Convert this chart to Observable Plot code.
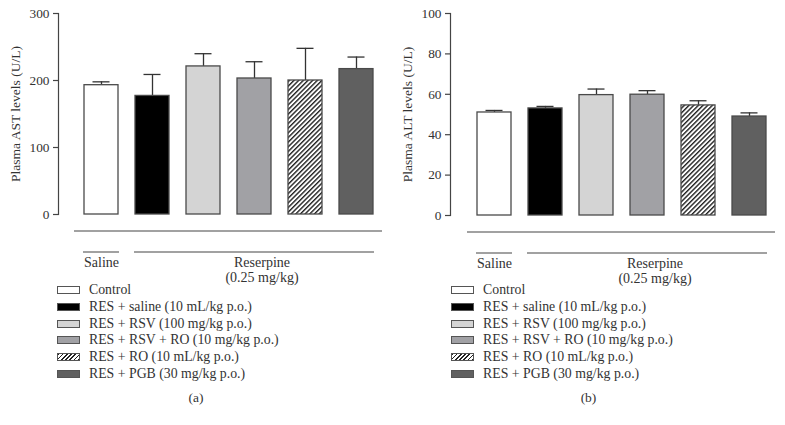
<!DOCTYPE html>
<html><head><meta charset="utf-8">
<script src="https://cdn.jsdelivr.net/npm/d3@7"></script>
<script src="https://cdn.jsdelivr.net/npm/@observablehq/plot@0.6"></script>
<style>
body{margin:0;background:#fff;font-family:"Liberation Serif",serif;color:#333;}
#wrap{display:flex;width:785px;}
.panel{position:relative;}
.panel svg{display:block;}
.row{height:16.7px;display:flex;align-items:center;font-size:13.8px;white-space:nowrap;}
.sw{box-sizing:border-box;width:23px;height:8px;border:1px solid #555;flex:none;}
.cap{text-align:center;font-size:13.5px;margin-top:8px;}
</style>
</head><body>
<div id="wrap"></div>
<script>
const groups = ["Control","RES + saline (10 mL/kg p.o.)","RES + RSV (100 mg/kg p.o.)","RES + RSV + RO (10 mg/kg p.o.)","RES + RO (10 mL/kg p.o.)","RES + PGB (30 mg/kg p.o.)"];
const astMean = [193, 177, 221, 203, 200, 217];
const astErr  = [5, 32, 19, 25, 48, 18];
const altMean = [51, 53, 59.6, 59.8, 54.5, 49];
const altErr  = [1, 1, 3, 2, 2.3, 1.8];
const astTicks = [0, 100, 200, 300];
const altTicks = [0, 20, 40, 60, 80, 100];
const fillColors = ["#ffffff", "#000000", "#d4d4d4", "#a1a1a5", "hatch", "#606060"];
const spanGroup = ["Saline", "Reserpine"];
const spanDose = ["", "(0.25 mg/kg)"];
const spanFrom = [groups[0], groups[1]];
const spanTo = [groups[0], groups[5]];
const spanMid = [groups[0], groups[3]];
const spanShift = [0, 7.5];

function makePanel({id, means, errs, ticks, yMax, label, width, x0, x1, bottom, caption, swLeft, textGap}) {
  const rows = groups.map((g, i) => ({g, m: means[i], e: errs[i]}));
  const spans = spanGroup.map((s, i) => ({group: s, dose: spanDose[i], from: spanFrom[i], to: spanTo[i], mid: spanMid[i], shift: spanShift[i]}));
  const fills = fillColors.map(c => c === "hatch" ? `url(#hatch-${id})` : c);
  const H = 282;
  const svg = Plot.plot({
    width, height: H, marginTop: 13, marginBottom: H - bottom, marginLeft: 58, marginRight: 0,
    style: {fontFamily: "Liberation Serif, serif", fontSize: "13px", color: "#333", background: "transparent", overflow: "visible"},
    x: {domain: groups, range: [x0, x1], padding: 0.337, axis: null},
    y: {domain: [0, yMax], axis: null},
    color: {domain: groups, range: fills},
    marks: [
      Plot.frame({anchor: "left", stroke: "#444", strokeWidth: 1.2}),
      Plot.axisY({ticks, tickSize: 5, tickPadding: 4, label: null, stroke: "#444", strokeWidth: 1.2, fontSize: 13.3}),
      Plot.text([label], {frameAnchor: "left", rotate: -90, dx: -43, text: d => d, fontSize: 13.5, textAnchor: "middle", lineAnchor: "middle"}),
      Plot.ruleX(rows, {x: "g", y1: "m", y2: d => d.m + d.e, stroke: "#333", strokeWidth: 1.3}),
      Plot.tickY(rows, {x: "g", y: d => d.m + d.e, inset: 8.5, stroke: "#333", strokeWidth: 1.3}),
      Plot.barY(rows, {x: "g", y: "m", fill: "g", stroke: "#4a4a4a", strokeWidth: 1.3}),
      Plot.ruleY([0], {x1: () => groups[0], x2: () => groups[groups.length - 1], y: d => d, dy: 16.5, insetLeft: -10, insetRight: -9, stroke: "#444", strokeWidth: 1.2}),
      Plot.ruleY(spans, {x1: "from", x2: "to", y: () => 0, dy: 37.5, insetLeft: -1, insetRight: -1, stroke: "#444", strokeWidth: 1.2}),
      Plot.text(spans.filter(d => d.shift === 0), {x: "mid", frameAnchor: "bottom", dy: 47.7, text: "group", lineAnchor: "middle", fontSize: 14}),
      Plot.text(spans.filter(d => d.shift !== 0), {x: "mid", frameAnchor: "bottom", dy: 47.7, dx: 7.5, text: "group", lineAnchor: "middle", fontSize: 14}),
      Plot.text(spans.filter(d => d.shift !== 0), {x: "mid", frameAnchor: "bottom", dy: 62.7, dx: 7.5, text: "dose", lineAnchor: "middle", fontSize: 14})
    ]
  });
  const ns = "http://www.w3.org/2000/svg";
  const defs = document.createElementNS(ns, "defs");
  const pat = document.createElementNS(ns, "pattern");
  pat.setAttribute("id", `hatch-${id}`);
  pat.setAttribute("patternUnits", "userSpaceOnUse");
  pat.setAttribute("width", "3.3");
  pat.setAttribute("height", "3.3");
  pat.setAttribute("patternTransform", "rotate(45)");
  const bg = document.createElementNS(ns, "rect");
  bg.setAttribute("width", "3.3"); bg.setAttribute("height", "3.3"); bg.setAttribute("fill", "#fff");
  const ln = document.createElementNS(ns, "rect");
  ln.setAttribute("width", "1.4"); ln.setAttribute("height", "3.3"); ln.setAttribute("fill", "#222");
  pat.appendChild(bg); pat.appendChild(ln); defs.appendChild(pat);
  svg.insertBefore(defs, svg.firstChild);

  const div = document.createElement("div");
  div.className = "panel";
  div.style.width = width + "px";
  div.appendChild(svg);
  const leg = document.createElement("div");
  groups.forEach((g, i) => {
    const r = document.createElement("div");
    r.className = "row";
    const sw = document.createElement("span");
    sw.className = "sw";
    sw.style.marginLeft = swLeft + "px";
    sw.style.marginRight = textGap + "px";
    if (fillColors[i] === "hatch") {
      sw.style.background = "repeating-linear-gradient(-45deg, #222 0px, #222 1.2px, #fff 1.2px, #fff 3px)";
    } else sw.style.background = fillColors[i];
    const t = document.createElement("span");
    t.textContent = g;
    r.appendChild(sw); r.appendChild(t);
    leg.appendChild(r);
  });
  div.appendChild(leg);
  const cap = document.createElement("div");
  cap.className = "cap";
  cap.textContent = caption;
  div.appendChild(cap);
  return div;
}

const wrap = document.getElementById("wrap");
wrap.appendChild(makePanel({id: "a", means: astMean, errs: astErr, ticks: astTicks, yMax: 300, label: "Plasma AST levels (U/L)", width: 392, x0: 65.4, x1: 390.5, bottom: 214, caption: "(a)", swLeft: 56.7, textGap: 9.3}));
wrap.appendChild(makePanel({id: "b", means: altMean, errs: altErr, ticks: altTicks, yMax: 100, label: "Plasma ALT levels (U/L)", width: 393, x0: 66.7, x1: 392.4, bottom: 215, caption: "(b)", swLeft: 58.7, textGap: 9.4}));
</script>
</body></html>
